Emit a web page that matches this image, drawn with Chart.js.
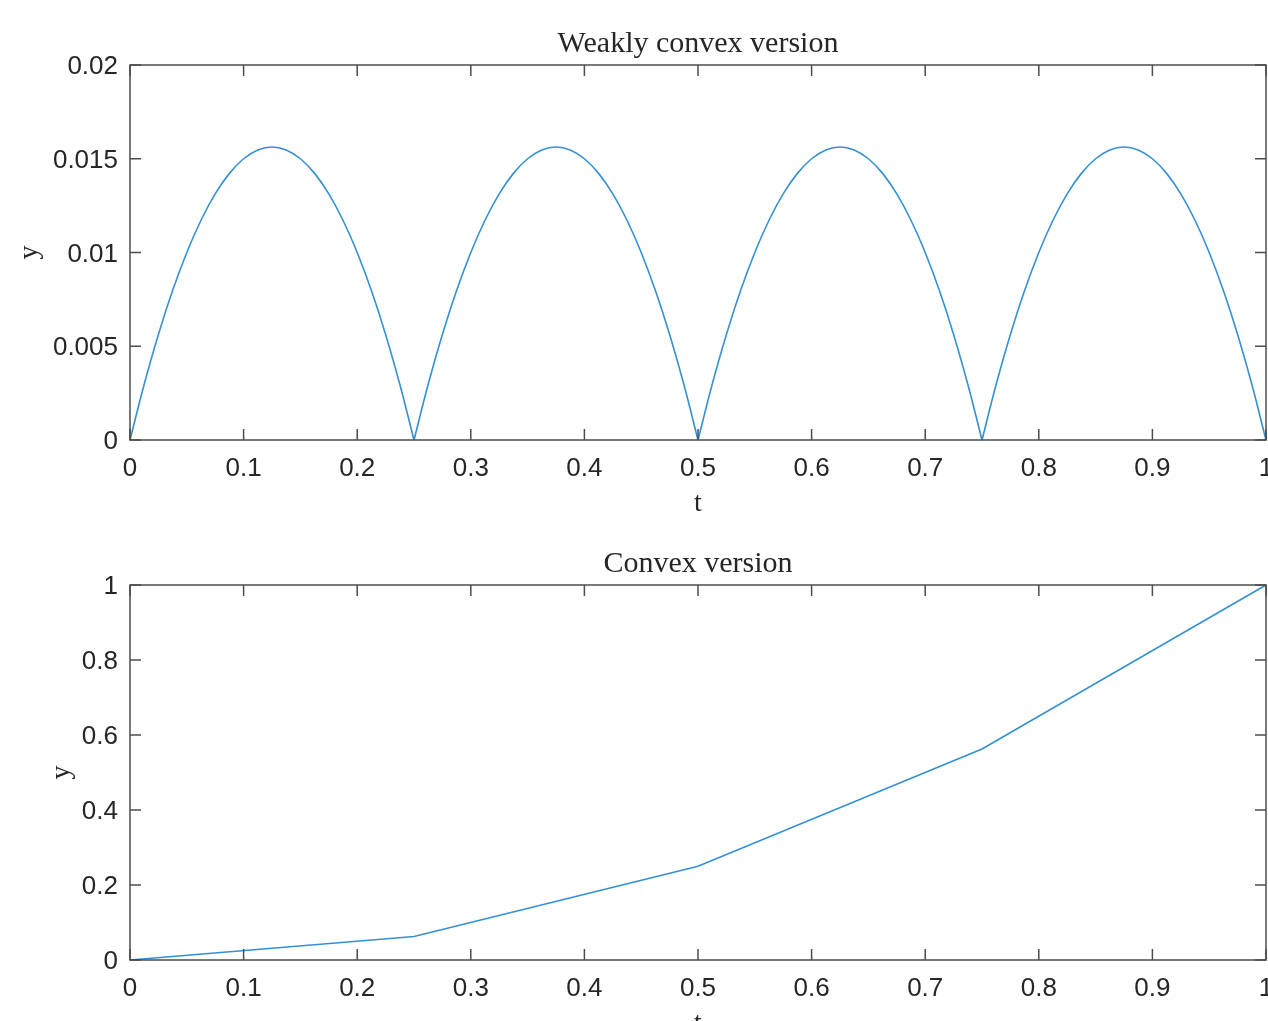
<!DOCTYPE html>
<html lang="en">

<head>
    <meta charset="UTF-8">
    <title>Weakly convex / Convex version</title>
    <script src="https://cdn.jsdelivr.net/npm/chart.js"></script>
    <style>
        html, body { margin: 0; padding: 0; background: #fff; overflow: hidden; }
        .plot { position: absolute; left: 0; width: 1268px; height: 520px; }
    </style>
</head>

<body>

    <div class="plot" style="top:0"><canvas id="topChart"></canvas></div>
    <div class="plot" style="top:520px"><canvas id="bottomChart"></canvas></div>

    <script>
        // data
        const tTop = [0, 0.0125, 0.025, 0.0375, 0.05, 0.0625, 0.075, 0.0875, 0.1, 0.1125, 0.125, 0.1375, 0.15, 0.1625, 0.175, 0.1875, 0.2, 0.2125, 0.225, 0.2375, 0.25,
            0.2625, 0.275, 0.2875, 0.3, 0.3125, 0.325, 0.3375, 0.35, 0.3625, 0.375, 0.3875, 0.4, 0.4125, 0.425, 0.4375, 0.45, 0.4625, 0.475, 0.4875, 0.5,
            0.5125, 0.525, 0.5375, 0.55, 0.5625, 0.575, 0.5875, 0.6, 0.6125, 0.625, 0.6375, 0.65, 0.6625, 0.675, 0.6875, 0.7, 0.7125, 0.725, 0.7375, 0.75,
            0.7625, 0.775, 0.7875, 0.8, 0.8125, 0.825, 0.8375, 0.85, 0.8625, 0.875, 0.8875, 0.9, 0.9125, 0.925, 0.9375, 0.95, 0.9625, 0.975, 0.9875, 1];
        const yTop = [0, 0.00297, 0.00563, 0.00797, 0.01, 0.01172, 0.01313, 0.01422, 0.015, 0.01547, 0.01563, 0.01547, 0.015, 0.01422, 0.01313, 0.01172, 0.01, 0.00797, 0.00563, 0.00297, 0,
            0.00297, 0.00563, 0.00797, 0.01, 0.01172, 0.01313, 0.01422, 0.015, 0.01547, 0.01563, 0.01547, 0.015, 0.01422, 0.01313, 0.01172, 0.01, 0.00797, 0.00563, 0.00297, 0,
            0.00297, 0.00563, 0.00797, 0.01, 0.01172, 0.01313, 0.01422, 0.015, 0.01547, 0.01563, 0.01547, 0.015, 0.01422, 0.01313, 0.01172, 0.01, 0.00797, 0.00563, 0.00297, 0,
            0.00297, 0.00563, 0.00797, 0.01, 0.01172, 0.01313, 0.01422, 0.015, 0.01547, 0.01563, 0.01547, 0.015, 0.01422, 0.01313, 0.01172, 0.01, 0.00797, 0.00563, 0.00297, 0];
        const archEnds = [0, 20, 40, 60, 80]; // indices where the arches touch zero

        const tBottom = [0, 0.25, 0.5, 0.75, 1];
        const yBottom = [0, 0.0625, 0.25, 0.5625, 1];

        const xTickValues = [0, 0.1, 0.2, 0.3, 0.4, 0.5, 0.6, 0.7, 0.8, 0.9, 1];
        const xTickLabels = ['0', '0.1', '0.2', '0.3', '0.4', '0.5', '0.6', '0.7', '0.8', '0.9', '1'];
        const yTopTickValues = [0, 0.005, 0.01, 0.015, 0.02];
        const yTopTickLabels = ['0', '0.005', '0.01', '0.015', '0.02'];
        const yBottomTickValues = [0, 0.2, 0.4, 0.6, 0.8, 1];
        const yBottomTickLabels = ['0', '0.2', '0.4', '0.6', '0.8', '1'];

        const lineColor = '#3590d3';
        const axisColor = '#4d4d4d';
        const textColor = '#262626';

        // box around plot area + inward ticks on all four sides + title centred on the plot
        const boxPlugin = {
            id: 'box',
            afterDraw(chart, args, opts) {
                const ctx = chart.ctx;
                const a = chart.chartArea;
                const len = 11;
                ctx.save();
                ctx.strokeStyle = axisColor;
                ctx.lineWidth = 1.5;
                ctx.strokeRect(a.left, a.top, a.right - a.left, a.bottom - a.top);
                ctx.beginPath();
                chart.scales.x.ticks.forEach(t => {
                    const px = chart.scales.x.getPixelForValue(t.value);
                    ctx.moveTo(px, a.bottom); ctx.lineTo(px, a.bottom - len);
                    ctx.moveTo(px, a.top); ctx.lineTo(px, a.top + len);
                });
                chart.scales.y.ticks.forEach(t => {
                    const py = chart.scales.y.getPixelForValue(t.value);
                    ctx.moveTo(a.left, py); ctx.lineTo(a.left + len, py);
                    ctx.moveTo(a.right, py); ctx.lineTo(a.right - len, py);
                });
                ctx.stroke();

                ctx.fillStyle = textColor;
                ctx.font = '30px "Liberation Serif"';
                ctx.textAlign = 'center';
                ctx.textBaseline = 'alphabetic';
                ctx.fillText(opts.text, (a.left + a.right) / 2, a.top - 13);
                ctx.restore();
            }
        };

        function makeChart(id, titleText, datasets, yMax, yVals, yLabels, yTitlePad) {
            return new Chart(document.getElementById(id), {
                type: 'line',
                data: { datasets: datasets },
                options: {
                    responsive: true,
                    maintainAspectRatio: false,
                    animation: false,
                    layout: { padding: { left: 0, right: 2, top: 65, bottom: 0 } },
                    elements: { point: { radius: 0 } },
                    plugins: {
                        legend: { display: false },
                        tooltip: { enabled: false },
                        title: { display: false },
                        box: { text: titleText }
                    },
                    scales: {
                        x: {
                            type: 'linear',
                            min: 0,
                            max: 1,
                            grid: { display: false, drawTicks: false },
                            border: { display: false },
                            afterBuildTicks: s => { s.ticks = xTickValues.map(v => ({ value: v })); },
                            afterFit: s => { s.height = 80; s.paddingLeft = 0; s.paddingRight = 0; },
                            ticks: {
                                padding: 13,
                                maxRotation: 0,
                                autoSkip: false,
                                color: textColor,
                                font: { family: 'Liberation Sans', size: 26 },
                                callback: (v, i) => xTickLabels[i]
                            },
                            title: {
                                display: true,
                                text: 't',
                                color: textColor,
                                font: { family: 'Liberation Serif', size: 28 },
                                padding: { top: 0, bottom: 0 }
                            }
                        },
                        y: {
                            type: 'linear',
                            min: 0,
                            max: yMax,
                            grid: { display: false, drawTicks: false },
                            border: { display: false },
                            afterBuildTicks: s => { s.ticks = yVals.map(v => ({ value: v })); },
                            afterFit: s => { s.width = 130; s.paddingTop = 0; s.paddingBottom = 0; },
                            ticks: {
                                padding: 12,
                                labelOffset: 2,
                                autoSkip: false,
                                color: textColor,
                                font: { family: 'Liberation Sans', size: 26 },
                                callback: (v, i) => yLabels[i]
                            },
                            title: {
                                display: true,
                                text: 'y',
                                color: textColor,
                                font: { family: 'Liberation Serif', size: 28 },
                                padding: { top: yTitlePad, bottom: 0 }
                            }
                        }
                    }
                },
                plugins: [boxPlugin]
            });
        }

        // one dataset per arch so the cusps at zero stay sharp
        const topSets = [];
        for (let k = 0; k < archEnds.length - 1; k++) {
            const pts = [];
            for (let i = archEnds[k]; i <= archEnds[k + 1]; i++) pts.push({ x: tTop[i], y: yTop[i] });
            topSets.push({ data: pts, borderColor: lineColor, borderWidth: 1.6, tension: 0.4, clip: false });
        }

        makeChart('topChart', 'Weakly convex version', topSets, 0.02, yTopTickValues, yTopTickLabels, 13);

        makeChart('bottomChart', 'Convex version', [{
            data: tBottom.map((t, i) => ({ x: t, y: yBottom[i] })),
            borderColor: lineColor,
            borderWidth: 1.6,
            tension: 0,
            clip: false
        }], 1, yBottomTickValues, yBottomTickLabels, 45);
    </script>
</body>

</html>
